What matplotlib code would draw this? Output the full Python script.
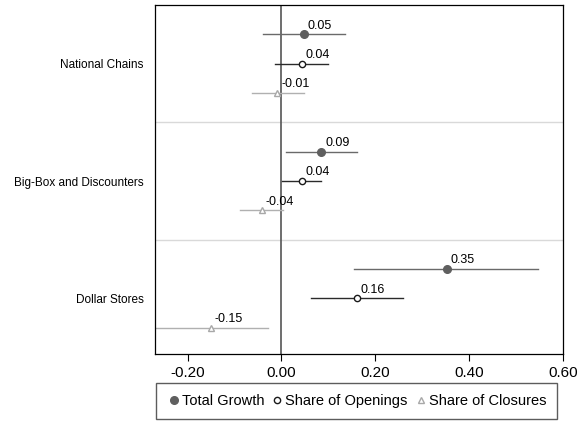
import numpy as np
import matplotlib
matplotlib.use('Agg')
import matplotlib.pyplot as plt

plt.rcParams['font.family'] = ['Liberation Sans', 'DejaVu Sans']

categories = ['National Chains', 'Big-Box and Discounters', 'Dollar Stores']
series = ['Total Growth', 'Share of Openings', 'Share of Closures']

# point estimates, lower and upper CI bounds (rows: categories, cols: series)
est = [[0.047, 0.043, -0.009],
       [0.085, 0.043, -0.042],
       [0.352, 0.160, -0.151]]
lo = [[-0.040, -0.013, -0.062],
      [0.010, 0.001, -0.088],
      [0.155, 0.063, -0.300]]
hi = [[0.136, 0.100, 0.047],
      [0.161, 0.084, 0.003],
      [0.547, 0.260, -0.029]]
labels = [['0.05', '0.04', '-0.01'],
          ['0.09', '0.04', '-0.04'],
          ['0.35', '0.16', '-0.15']]

group_y = [8, 4, 0]
offsets = [1, 0, -1]
styles = [
    dict(marker='o', mfc='#5f5f5f', mec='#5f5f5f', ms=5.5, line='#6a6a6a'),
    dict(marker='o', mfc='white', mec='#1a1a1a', ms=4.5, line='#2a2a2a'),
    dict(marker='^', mfc='white', mec='#a8a8a8', ms=5, line='#b0b0b0'),
]

fig = plt.figure(figsize=(5.84, 4.22), dpi=100)
ax = fig.add_axes([0.265, 0.161, 0.699, 0.827])

for s, name in enumerate(series):
    st = styles[s]
    for c in range(len(categories)):
        y = group_y[c] + offsets[s]
        ax.plot([lo[c][s], hi[c][s]], [y, y], color=st['line'], lw=1.0, zorder=2)
        ax.plot(est[c][s], y, marker=st['marker'], mfc=st['mfc'], mec=st['mec'],
                ms=st['ms'], mew=1.0, ls='none', zorder=3)
        ax.annotate(labels[c][s], xy=(est[c][s], y), xytext=(3, 2),
                    textcoords='offset points', ha='left', va='bottom',
                    fontsize=9, color='black', zorder=4)
    ax.plot([], [], marker=st['marker'], mfc=st['mfc'], mec=st['mec'],
            ms=st['ms'], mew=1.0, ls='none', label=name)

ax.axvline(0, color='#555555', lw=1.2, zorder=1)
for yy in [2, 6]:
    ax.axhline(yy, color='#d9d9d9', lw=1.0, zorder=0)

ax.set_xlim(-0.27, 0.60)
ax.set_ylim(-1.9, 10)
ax.set_xticks([-0.2, 0.0, 0.2, 0.4, 0.6])
ax.set_xticklabels(['-0.20', '0.00', '0.20', '0.40', '0.60'], fontsize=11)
ax.set_yticks(group_y)
ax.set_yticklabels(categories, fontsize=8.5)
ax.tick_params(axis='y', length=0, pad=8)
ax.tick_params(axis='x', length=5, width=0.8, direction='out')
for sp in ax.spines.values():
    sp.set_linewidth(0.9)
    sp.set_color('black')

ax.legend(loc='upper center', bbox_to_anchor=(0.495, -0.083), ncol=3,
          fontsize=10.5, frameon=True, fancybox=False, edgecolor='#333333',
          handletextpad=0.1, columnspacing=0.45, borderpad=0.75,
          handlelength=0.9, borderaxespad=0)

fig.savefig('out.png', dpi=100)
